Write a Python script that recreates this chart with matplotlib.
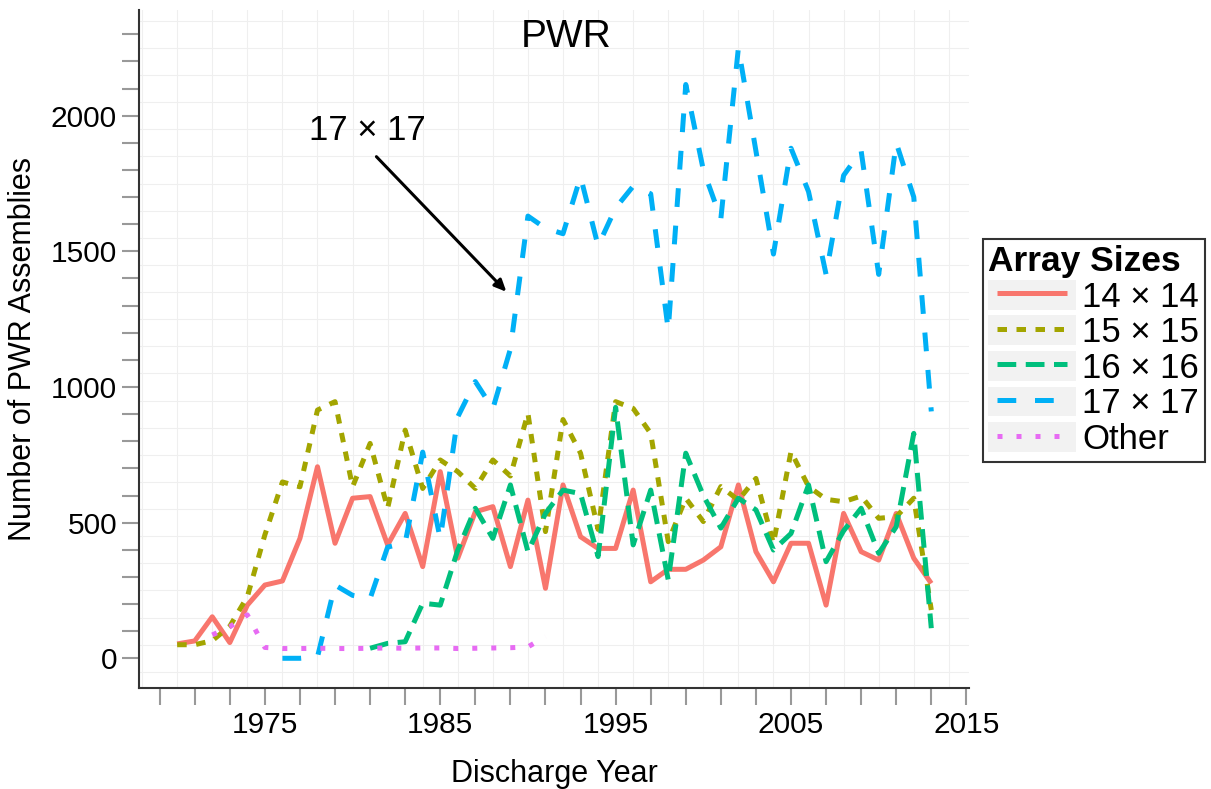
import numpy as np
import matplotlib
matplotlib.use('Agg')
import matplotlib.pyplot as plt
from matplotlib.legend_handler import HandlerLine2D
from matplotlib.patches import Rectangle

plt.rcParams['font.family'] = ['Liberation Sans', 'DejaVu Sans']

# data
years_14 = list(range(1970, 2014))
pwr_14 = [53, 64, 153, 58, 196, 270, 285, 442, 706, 424,
          590, 596, 418, 534, 338, 688, 369, 540, 559, 338,
          583, 258, 639, 448, 405, 405, 620, 282, 328, 328,
          362, 411, 639, 393, 282, 424, 424, 196, 534, 393,
          362, 534, 369, 276]

years_15 = list(range(1970, 2014))
pwr_15 = [50, 50, 65, 118, 227, 455, 650, 632, 915, 946,
          632, 792, 553, 841, 626, 731, 688, 626, 731, 672,
          903, 467, 880, 756, 475, 946, 921, 829, 430, 590,
          504, 633, 583, 663, 424, 762, 633, 586, 577, 598,
          516, 522, 590, 178]

years_16 = list(range(1981, 2014))
pwr_16 = [37, 55, 61, 203, 196, 399, 553, 442, 639,
          393, 534, 620, 607, 375, 925, 418, 620, 289, 756,
          600, 480, 590, 547, 399, 460, 639, 356, 470, 553,
          387, 485, 829, 111]

years_17 = list(range(1976, 2014))
pwr_17 = [0, 0, 5, 270,
          232, 220, 410, 425, 760, 440, 890, 1020, 920, 1140,
          1630, 1585, 1565, 1775, 1520, 1660, 1740, 1712, 1210, 2115,
          1800, 1620, 2250, 1870, 1490, 1880, 1720, 1415, 1780, 1870,
          1415, 1900, 1700, 910]

years_other = list(range(1972, 1992))
pwr_other = [86, 116, 160, 40, 36, 36, 37, 36,
             36, 37, 38, 37, 38, 38, 36, 37, 38, 39,
             42, 80]

labels = ['14 × 14', '15 × 15', '16 × 16', '17 × 17', 'Other']
colors = ['#F8766D', '#A3A500', '#00BF7D', '#00B0F6', '#E76BF3']
styles = ['-', (0, (1.9, 1.9)), (0, (3.75, 1.9)), (0, (3.75, 3.75)), (0, (1, 2.8))]


class KeyHandler(HandlerLine2D):
    # grey key background like ggplot
    def create_artists(self, legend, orig_handle, xdescent, ydescent,
                       width, height, fontsize, trans):
        bg = Rectangle((-xdescent, -ydescent), width, height,
                       facecolor='#f2f2f2', edgecolor='none', transform=trans)
        arts = super().create_artists(legend, orig_handle, xdescent, ydescent,
                                      width, height, fontsize, trans)
        return [bg] + list(arts)


def plot():
    fig = plt.figure(figsize=(12.11, 7.89), dpi=100)
    ax = fig.add_axes([0.11503, 0.12763, 0.68514, 0.8597])

    series = [(years_14, pwr_14), (years_15, pwr_15), (years_16, pwr_16),
              (years_17, pwr_17), (years_other, pwr_other)]
    handles = []
    for (xs, ys), lab, c, ls in zip(series, labels, colors, styles):
        ln, = ax.plot(xs, ys, color=c, ls=ls, lw=3.6, label=lab,
                      solid_joinstyle='round', solid_capstyle='butt',
                      dash_capstyle='butt')
        handles.append(ln)

    ax.set_xlim(1967.84, 2015.15)
    ax.set_ylim(-110.6, 2389.6)

    # ticks at odd years / every 100, grid halfway between
    xt = list(range(1969, 2016, 2))
    ax.set_xticks(xt)
    ax.set_xticklabels([str(t) if t % 10 == 5 else '' for t in xt])
    ax.set_xticks(list(range(1968, 2016, 2)), minor=True)
    yt = list(range(0, 2400, 100))
    ax.set_yticks(yt)
    ax.set_yticklabels([str(t) if t % 500 == 0 else '' for t in yt])
    ax.set_yticks(list(range(-50, 2400, 100)), minor=True)

    ax.grid(which='minor', color='#efefef', lw=0.8)
    ax.set_axisbelow(True)
    ax.tick_params(which='major', length=12.5, width=1.5, color='#999999',
                   pad=3.5, labelsize=21.5)
    ax.tick_params(which='minor', length=0)
    for s in ['top', 'right']:
        ax.spines[s].set_visible(False)
    for s in ['left', 'bottom']:
        ax.spines[s].set_color('#333333')
        ax.spines[s].set_linewidth(1.5)

    ax.set_xlabel('Discharge Year', fontsize=22, labelpad=15)
    ax.set_ylabel('Number of PWR Assemblies', fontsize=22, labelpad=9)

    ax.text(0.514, 0.9455, 'PWR', transform=ax.transAxes, ha='center',
            va='baseline', fontsize=28)

    ax.text(1980.87, 1947, '17 × 17', ha='center', va='center', fontsize=25)
    ax.annotate('', xy=(1988.77, 1351), xytext=(1981.36, 1849),
                arrowprops=dict(arrowstyle='-|>,head_length=0.7,head_width=0.32',
                                color='black', lw=2.2, shrinkA=0, shrinkB=0))

    leg = ax.legend(handles=handles, loc='upper left',
                    bbox_to_anchor=(0.8115, 0.6967), bbox_transform=fig.transFigure,
                    borderaxespad=0, fontsize=25, title='Array Sizes',
                    title_fontproperties={'weight': 'bold', 'size': 25.5},
                    alignment='left', fancybox=False, framealpha=1,
                    edgecolor='#333333', handlelength=2.54, handleheight=0.95,
                    labelspacing=0.05, borderpad=0.16, handletextpad=0.16,
                    numpoints=2,
                    handler_map={h: KeyHandler(marker_pad=0.26) for h in handles})
    leg.get_frame().set_linewidth(1.5)

    fig.savefig('out.png', dpi=100)
    plt.close(fig)


if __name__ == '__main__':
    plot()
